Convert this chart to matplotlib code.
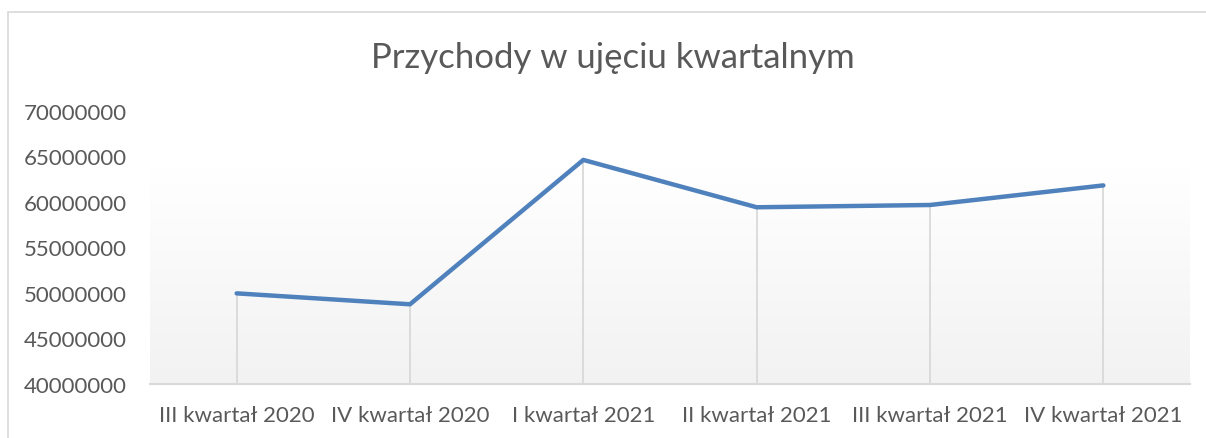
import numpy as np
import matplotlib.pyplot as plt
from matplotlib.colors import LinearSegmentedColormap
from matplotlib.patches import Rectangle

quarters = ['III kwartał 2020', 'IV kwartał 2020', 'I kwartał 2021',
            'II kwartał 2021', 'III kwartał 2021', 'IV kwartał 2021']
revenue = [49950000, 48750000, 64600000, 59400000, 59650000, 61800000]
yticks = [40000000, 45000000, 50000000, 55000000, 60000000, 65000000, 70000000]

plt.rcParams['font.family'] = ['Lato', 'DejaVu Sans']
grey_txt = '#595959'

fig = plt.figure(figsize=(12.06, 4.39), dpi=100)
fig.patches.append(Rectangle((8/1206, -0.1), 1.1, (439-13)/439 + 0.1,
                             transform=fig.transFigure, fill=False,
                             edgecolor='#d9d9d9', lw=1.2))
ax = fig.add_axes([150/1206, 54/439, 1040/1206, 273.3/439])

# gradient background of plot area
grad = LinearSegmentedColormap.from_list('g', ['#f2f2f2', '#ffffff'])
ax.imshow(np.linspace(0, 1, 256).reshape(-1, 1), cmap=grad, aspect='auto',
          origin='lower', extent=[0, 1, 0, 0.79], transform=ax.transAxes,
          zorder=0)

x = np.arange(len(quarters))
ax.vlines(x, yticks[0], revenue, colors='#d9d9d9', lw=1.3, zorder=1)
ax.plot(x, revenue, color='#4f81bd', lw=3.2, solid_joinstyle='round',
        solid_capstyle='round', zorder=3)

ax.set_xlim(-0.5, len(quarters) - 0.5)
ax.set_ylim(yticks[0], yticks[-1])
ax.set_yticks(yticks)
ax.set_yticklabels([str(v) for v in yticks])
ax.set_xticks(x)
ax.set_xticklabels(quarters)
ax.tick_params(axis='both', length=0, labelsize=16, colors=grey_txt)
ax.tick_params(axis='y', pad=17)
ax.tick_params(axis='x', pad=15)
for side in ['top', 'right', 'left']:
    ax.spines[side].set_visible(False)
ax.spines['bottom'].set_color('#d9d9d9')
ax.spines['bottom'].set_linewidth(1.5)
ax.set_facecolor('white')

fig.text(613/1206, 1 - 58/439, 'Przychody w ujęciu kwartalnym', ha='center',
         va='center', fontsize=25, color=grey_txt)

fig.savefig('out.png', dpi=100)
